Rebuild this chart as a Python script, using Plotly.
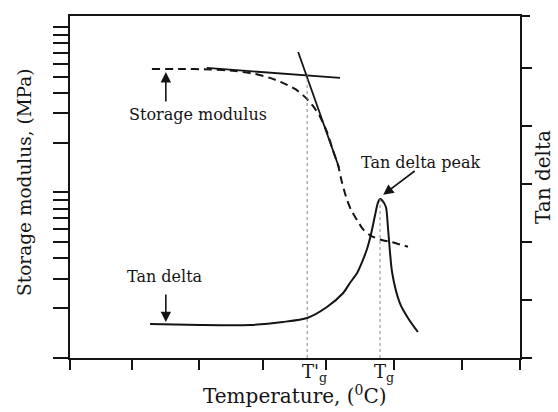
import plotly.graph_objects as go

# Temperature scale (arbitrary units, 0-100 across the plot)
x_ticks = [0, 13.8, 28.7, 42.9, 56.9, 72.0, 87.1, 100]

# Storage modulus (MPa, log scale) vs temperature
temp_storage = [18.2, 24.4, 31.1, 36.7, 41.1, 44.4, 47.3, 50.0, 52.2, 54.0, 55.6,
                57.1, 58.4, 59.6, 60.4, 61.3, 62.4, 63.8, 65.1, 66.7, 68.9, 71.6, 75.1]
storage_modulus = [55.7, 55.7, 55.4, 54.2, 52.0, 49.2, 45.9, 42.2, 37.8, 33.3, 28.6,
                   23.2, 18.1, 14.5, 11.6, 9.5, 7.9, 6.8, 6.0, 5.5, 5.2, 5.0, 4.7]

# Tangents used to locate the onset temperature
tangent_glassy_t = [30.4, 60.0]
tangent_glassy_e = [56.5, 49.2]
tangent_drop_t = [50.7, 59.8]
tangent_drop_e = [70.6, 14.1]

# Tan delta (arbitrary units) vs temperature
temp_tan = [17.8, 28.9, 40.0, 47.3, 52.7, 57.1, 60.7, 62.2, 63.8, 64.9, 66.0, 66.9,
            67.8, 68.4, 68.9, 69.3, 70.2, 70.7, 71.6, 73.3, 75.1, 77.3]
tan_delta = [0.586, 0.569, 0.569, 0.621, 0.690, 0.879, 1.121, 1.293, 1.466, 1.655,
             1.879, 2.138, 2.466, 2.672, 2.741, 2.724, 2.603, 2.207, 1.466, 0.948,
             0.690, 0.448]

# Characteristic temperatures
onset_t, onset_level = 52.7, 4.88
peak_t, peak_level = 68.9, 2.741

log_ticks = [1, 2, 3, 4, 5, 6, 7, 8, 9, 10, 20, 30, 40, 50, 60, 70, 80, 90, 100]
tan_ticks = [0, 1, 2, 3, 4, 5]

FONT = "DejaVu Serif"
INK = "#141414"

fig = go.Figure()

fig.add_trace(go.Scatter(x=temp_storage, y=storage_modulus, mode="lines",
                         line=dict(color=INK, width=2, dash="8px,5px", shape="spline", smoothing=0.6),
                         yaxis="y"))
fig.add_trace(go.Scatter(x=tangent_glassy_t, y=tangent_glassy_e, mode="lines",
                         line=dict(color=INK, width=1.8), yaxis="y"))
fig.add_trace(go.Scatter(x=tangent_drop_t, y=tangent_drop_e, mode="lines",
                         line=dict(color=INK, width=1.8), yaxis="y"))

fig.add_trace(go.Scatter(x=temp_tan, y=tan_delta, mode="lines",
                         line=dict(color=INK, width=2, shape="spline", smoothing=0.7),
                         yaxis="y2"))

# Dotted drop lines at T'g and Tg
fig.add_trace(go.Scatter(x=[onset_t, onset_t], y=[0, onset_level], mode="lines",
                         line=dict(color="#888888", width=1, dash="3px,3px"), yaxis="y2"))
fig.add_trace(go.Scatter(x=[peak_t, peak_t], y=[0, peak_level], mode="lines",
                         line=dict(color="#888888", width=1, dash="3px,3px"), yaxis="y2"))


def label(text, x, y, size, xref="x", yref="paper", **kw):
    base = dict(text=text, x=x, y=y, xref=xref, yref=yref, showarrow=False,
                xanchor="center", yanchor="middle", font=dict(size=size))
    base.update(kw)
    return base


def arrow(x, y, ax, ay):
    return dict(text="", x=x, y=y, xref="x", yref="paper", showarrow=True,
                ax=ax, ay=ay, arrowhead=2, arrowsize=1.3, arrowwidth=1.6, arrowcolor=INK)


annotations = [
    label("Storage modulus", 28.4, 0.711, 16),
    arrow(21.3, 0.836, 0, 31),
    label("Tan delta", 21.1, 0.237, 16),
    arrow(21.3, 0.105, 0, -29),
    label("Tan delta peak", 77.8, 0.573, 16),
    arrow(69.6, 0.477, 33, -25),
    label("T'<sub>g</sub>", 51.1, 0, 18, xanchor="left", yanchor="top", yshift=-1),
    label("T<sub>g</sub>", 67.1, 0, 18, xanchor="left", yanchor="top", yshift=-1),
    label("Temperature, (<sup>0</sup>C)", 0.5, 0, 20, xref="paper",
          yanchor="top", yshift=-22),
    label("Storage modulus, (MPa)", -0.1, 0.512, 18.5, xref="paper", textangle=-90),
    label("Tan delta", 1.051, 0.529, 20, xref="paper", textangle=-90),
]

fig.update_layout(
    width=558, height=412,
    margin=dict(l=70, r=38, t=16, b=54),
    paper_bgcolor="white", plot_bgcolor="white",
    showlegend=False,
    font=dict(family=FONT, color=INK),
    annotations=annotations,
    xaxis=dict(range=[0, 100], tickvals=x_ticks, showticklabels=False,
               ticks="outside", ticklen=10, tickwidth=2, tickcolor=INK,
               showline=True, linewidth=2, linecolor=INK, mirror=True,
               showgrid=False, zeroline=False),
    yaxis=dict(type="log", range=[0, 2.066], tickvals=log_ticks, showticklabels=False,
               ticks="outside", ticklen=15, tickwidth=2, tickcolor=INK,
               showline=True, linewidth=2, linecolor=INK,
               showgrid=False, zeroline=False),
    yaxis2=dict(overlaying="y", side="right", range=[0, 5.897], tickvals=tan_ticks,
                showticklabels=False, ticks="outside", ticklen=10, tickwidth=2,
                tickcolor=INK, showline=True, linewidth=2, linecolor=INK,
                showgrid=False, zeroline=False),
    shapes=[dict(type="line", xref="paper", yref="paper", x0=1, x1=1 + 10 / 450,
                 y0=1, y1=1, line=dict(color=INK, width=2))],
)

fig.write_html("out.html")
